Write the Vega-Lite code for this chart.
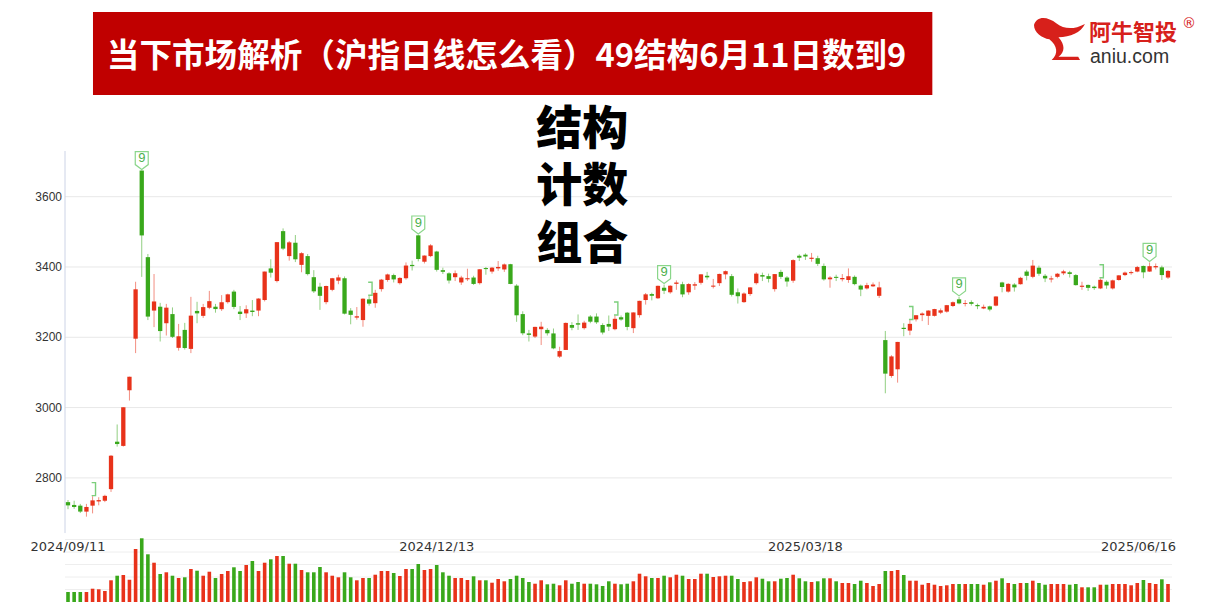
{
"$schema": "https://vega.github.io/schema/vega-lite/v6.json",
"width": 1218,
"height": 613,
"autosize": {"type": "fit", "contains": "padding"},
"padding": 0,
"background": "#ffffff",
"config": {"view": {"stroke": null}},
"datasets": {
"k": [
{"date":"2024-09-11","open":2731,"high":2737,"low":2711,"close":2721.8,"volume":2400},
{"date":"2024-09-12","open":2723,"high":2735,"low":2712,"close":2717.1,"volume":2400},
{"date":"2024-09-13","open":2721,"high":2726,"low":2700,"close":2704.1,"volume":2400},
{"date":"2024-09-18","open":2704,"high":2726,"low":2689.7,"close":2717.3,"volume":2400},
{"date":"2024-09-19","open":2721,"high":2748,"low":2699,"close":2736.0,"volume":3190,"td":1},
{"date":"2024-09-20","open":2733,"high":2745,"low":2722,"close":2736.8,"volume":3050},
{"date":"2024-09-23","open":2735,"high":2752,"low":2731,"close":2748.9,"volume":2640},
{"date":"2024-09-24","open":2768,"high":2865,"low":2760,"close":2863.1,"volume":5210},
{"date":"2024-09-25","open":2903,"high":2952,"low":2889,"close":2896.3,"volume":6310},
{"date":"2024-09-26","open":2891,"high":3001,"low":2889,"close":3000.9,"volume":6480},
{"date":"2024-09-27","open":3049,"high":3088,"low":3020,"close":3087.5,"volume":5350},
{"date":"2024-09-30","open":3196,"high":3358,"low":3155,"close":3336.5,"volume":12720},
{"date":"2024-10-08","open":3674.4,"high":3674.4,"low":3371.8,"close":3489.8,"volume":15290,"td":9},
{"date":"2024-10-09","open":3428,"high":3437,"low":3249,"close":3258.9,"volume":11450},
{"date":"2024-10-10","open":3276,"high":3380,"low":3229,"close":3301.9,"volume":9430},
{"date":"2024-10-11","open":3287,"high":3298,"low":3188,"close":3217.7,"volume":6720},
{"date":"2024-10-14","open":3240,"high":3295,"low":3205,"close":3284.3,"volume":7130},
{"date":"2024-10-15","open":3266,"high":3285,"low":3198,"close":3201.3,"volume":6310},
{"date":"2024-10-16","open":3170,"high":3238,"low":3162,"close":3202.9,"volume":5760},
{"date":"2024-10-17","open":3221,"high":3241,"low":3165,"close":3169.4,"volume":5930},
{"date":"2024-10-18","open":3167,"high":3315,"low":3155,"close":3261.6,"volume":7920},
{"date":"2024-10-21","open":3275,"high":3301,"low":3240,"close":3268.1,"volume":7510},
{"date":"2024-10-22","open":3261,"high":3295,"low":3255,"close":3285.9,"volume":6310},
{"date":"2024-10-23","open":3284,"high":3332,"low":3280,"close":3302.8,"volume":7270},
{"date":"2024-10-24","open":3287,"high":3295,"low":3270,"close":3280.3,"volume":5760},
{"date":"2024-10-25","open":3280,"high":3320,"low":3275,"close":3299.7,"volume":6720},
{"date":"2024-10-28","open":3300,"high":3324,"low":3296,"close":3322.2,"volume":7440},
{"date":"2024-10-29","open":3330,"high":3335,"low":3280,"close":3286.4,"volume":8330},
{"date":"2024-10-30","open":3273,"high":3289,"low":3249,"close":3266.2,"volume":7440},
{"date":"2024-10-31","open":3268,"high":3291,"low":3255,"close":3279.8,"volume":8880},
{"date":"2024-11-01","open":3276,"high":3306,"low":3260,"close":3272.0,"volume":9840},
{"date":"2024-11-04","open":3276,"high":3311,"low":3260,"close":3310.2,"volume":7440},
{"date":"2024-11-05","open":3306,"high":3387,"low":3302,"close":3387.0,"volume":9430},
{"date":"2024-11-06","open":3396,"high":3422,"low":3370,"close":3383.8,"volume":10250},
{"date":"2024-11-07","open":3360,"high":3471,"low":3356,"close":3470.7,"volume":11040},
{"date":"2024-11-08","open":3502,"high":3509.8,"low":3448,"close":3452.3,"volume":11040},
{"date":"2024-11-11","open":3431,"high":3474,"low":3418,"close":3470.1,"volume":9190},
{"date":"2024-11-12","open":3469,"high":3491,"low":3414,"close":3421.9,"volume":9190},
{"date":"2024-11-13","open":3406,"high":3442,"low":3385,"close":3439.3,"volume":7680},
{"date":"2024-11-14","open":3431,"high":3437,"low":3376,"close":3379.8,"volume":7130},
{"date":"2024-11-15","open":3371,"high":3391,"low":3326,"close":3330.7,"volume":7130},
{"date":"2024-11-18","open":3344,"high":3355,"low":3278,"close":3318,"volume":8400},
{"date":"2024-11-19","open":3300,"high":3347,"low":3294,"close":3346.0,"volume":7130},
{"date":"2024-11-20","open":3335,"high":3369,"low":3331,"close":3368.0,"volume":6310},
{"date":"2024-11-21","open":3361,"high":3378,"low":3351,"close":3370.4,"volume":5930},
{"date":"2024-11-22","open":3368,"high":3373,"low":3265,"close":3267.2,"volume":7130},
{"date":"2024-11-25","open":3276,"high":3283,"low":3237,"close":3263.8,"volume":5930},
{"date":"2024-11-26","open":3256,"high":3286,"low":3250,"close":3259.8,"volume":5210},
{"date":"2024-11-27","open":3249,"high":3311,"low":3230,"close":3309.8,"volume":5760},
{"date":"2024-11-28","open":3308,"high":3318,"low":3290,"close":3295.7,"volume":5760,"td":1},
{"date":"2024-11-29","open":3297,"high":3335,"low":3284,"close":3326.5,"volume":6550},
{"date":"2024-12-02","open":3337,"high":3366,"low":3330,"close":3364.0,"volume":7440},
{"date":"2024-12-03","open":3363,"high":3381,"low":3358,"close":3378.8,"volume":7440},
{"date":"2024-12-04","open":3377,"high":3381,"low":3356,"close":3364.7,"volume":6960},
{"date":"2024-12-05","open":3354,"high":3371,"low":3350,"close":3368.9,"volume":6240},
{"date":"2024-12-06","open":3368,"high":3413,"low":3364,"close":3404.1,"volume":7920},
{"date":"2024-12-09","open":3406,"high":3418,"low":3390,"close":3402.5,"volume":7920},
{"date":"2024-12-10","open":3490,"high":3491,"low":3416,"close":3422.7,"volume":9120,"td":9},
{"date":"2024-12-11","open":3415,"high":3433,"low":3410,"close":3432.5,"volume":7680},
{"date":"2024-12-12","open":3431,"high":3465,"low":3428,"close":3461.5,"volume":7920},
{"date":"2024-12-13","open":3444,"high":3446,"low":3387,"close":3391.9,"volume":8880},
{"date":"2024-12-16","open":3391,"high":3398,"low":3380,"close":3386.3,"volume":7130},
{"date":"2024-12-17","open":3382,"high":3385,"low":3353,"close":3361.5,"volume":6310},
{"date":"2024-12-18","open":3371,"high":3390,"low":3360,"close":3382.2,"volume":5760},
{"date":"2024-12-19","open":3356,"high":3375,"low":3349,"close":3370.0,"volume":5760},
{"date":"2024-12-20","open":3365,"high":3395,"low":3360,"close":3368.1,"volume":5280},
{"date":"2024-12-23","open":3370,"high":3375,"low":3349,"close":3351.8,"volume":6170},
{"date":"2024-12-24","open":3354,"high":3394,"low":3350,"close":3393.5,"volume":5210},
{"date":"2024-12-25","open":3397,"high":3400,"low":3378,"close":3394.0,"volume":5210},
{"date":"2024-12-26","open":3387,"high":3400,"low":3381,"close":3398.1,"volume":4630},
{"date":"2024-12-27","open":3396,"high":3417,"low":3389,"close":3400.1,"volume":5520},
{"date":"2024-12-30","open":3393,"high":3410,"low":3386,"close":3407.3,"volume":4970},
{"date":"2024-12-31","open":3408,"high":3409,"low":3351,"close":3351.8,"volume":5520},
{"date":"2025-01-02","open":3347,"high":3351,"low":3244,"close":3262.6,"volume":6310},
{"date":"2025-01-03","open":3266,"high":3274,"low":3206,"close":3211.4,"volume":5760},
{"date":"2025-01-06","open":3211,"high":3221,"low":3188,"close":3206.9,"volume":4800},
{"date":"2025-01-07","open":3202,"high":3230,"low":3198,"close":3229.6,"volume":4390},
{"date":"2025-01-08","open":3223,"high":3244,"low":3178,"close":3230.2,"volume":5210},
{"date":"2025-01-09","open":3221,"high":3226,"low":3205,"close":3211.4,"volume":4250},
{"date":"2025-01-10","open":3211,"high":3225,"low":3166,"close":3168.5,"volume":4390},
{"date":"2025-01-13","open":3145,"high":3173,"low":3141,"close":3160.8,"volume":4010},
{"date":"2025-01-14","open":3164,"high":3242,"low":3164,"close":3240.9,"volume":5210},
{"date":"2025-01-15","open":3235,"high":3243,"low":3220,"close":3227.1,"volume":4390},
{"date":"2025-01-16","open":3240,"high":3265,"low":3221,"close":3236.0,"volume":4800},
{"date":"2025-01-17","open":3226,"high":3247,"low":3222,"close":3241.8,"volume":4390},
{"date":"2025-01-20","open":3259,"high":3263,"low":3240,"close":3244.4,"volume":4390},
{"date":"2025-01-21","open":3259,"high":3268,"low":3238,"close":3242.6,"volume":4250},
{"date":"2025-01-22","open":3235,"high":3240,"low":3208,"close":3213.6,"volume":3840},
{"date":"2025-01-23","open":3238,"high":3262,"low":3218,"close":3230.2,"volume":4970},
{"date":"2025-01-24","open":3223,"high":3262,"low":3220,"close":3252.6,"volume":4390,"td":1},
{"date":"2025-01-27","open":3257,"high":3262,"low":3247,"close":3250.6,"volume":4250},
{"date":"2025-02-05","open":3270,"high":3272,"low":3220,"close":3229.5,"volume":4390},
{"date":"2025-02-06","open":3226,"high":3271,"low":3212,"close":3270.7,"volume":4970},
{"date":"2025-02-07","open":3263,"high":3304,"low":3256,"close":3303.7,"volume":6790},
{"date":"2025-02-10","open":3306,"high":3326,"low":3293,"close":3322.2,"volume":6170},
{"date":"2025-02-11","open":3323,"high":3327,"low":3305,"close":3318.1,"volume":5760},
{"date":"2025-02-12","open":3311,"high":3347,"low":3309,"close":3346.4,"volume":5760},
{"date":"2025-02-13","open":3341,"high":3350,"low":3323,"close":3332.5,"volume":6310,"td":9},
{"date":"2025-02-14","open":3328,"high":3348,"low":3324,"close":3346.7,"volume":5930},
{"date":"2025-02-17","open":3352,"high":3362,"low":3335,"close":3355.8,"volume":6550},
{"date":"2025-02-18","open":3351,"high":3358,"low":3314,"close":3322,"volume":6310},
{"date":"2025-02-19","open":3328,"high":3354,"low":3321,"close":3351.5,"volume":5520},
{"date":"2025-02-20","open":3347,"high":3357,"low":3335,"close":3350.8,"volume":5520},
{"date":"2025-02-21","open":3355,"high":3380,"low":3350,"close":3379.1,"volume":6790},
{"date":"2025-02-24","open":3375,"high":3386,"low":3364,"close":3370.5,"volume":6790},
{"date":"2025-02-25","open":3344,"high":3366,"low":3339,"close":3347,"volume":6000},
{"date":"2025-02-26","open":3354,"high":3381,"low":3346,"close":3380.2,"volume":6170},
{"date":"2025-02-27","open":3379,"high":3390,"low":3365,"close":3388.1,"volume":6310},
{"date":"2025-02-28","open":3374,"high":3380,"low":3316,"close":3320.9,"volume":6310},
{"date":"2025-03-03","open":3328,"high":3339,"low":3296,"close":3316.9,"volume":5520},
{"date":"2025-03-04","open":3300,"high":3328,"low":3298,"close":3324.5,"volume":4800},
{"date":"2025-03-05","open":3323,"high":3343,"low":3318,"close":3342.0,"volume":4970},
{"date":"2025-03-06","open":3354,"high":3385,"low":3350,"close":3381.1,"volume":5930},
{"date":"2025-03-07","open":3377,"high":3384,"low":3360,"close":3372.6,"volume":5590},
{"date":"2025-03-10","open":3374,"high":3381,"low":3356,"close":3366.2,"volume":4970},
{"date":"2025-03-11","open":3337,"high":3380,"low":3330,"close":3379.8,"volume":4970},
{"date":"2025-03-12","open":3386,"high":3392,"low":3366,"close":3371.9,"volume":5590},
{"date":"2025-03-13","open":3370,"high":3374,"low":3344,"close":3358.7,"volume":5760},
{"date":"2025-03-14","open":3361,"high":3422,"low":3355,"close":3419.6,"volume":6550},
{"date":"2025-03-17","open":3432,"high":3436,"low":3417,"close":3426.4,"volume":5690},
{"date":"2025-03-18","open":3435,"high":3439,"low":3420,"close":3429.8,"volume":4970},
{"date":"2025-03-19","open":3423,"high":3440,"low":3415,"close":3426.4,"volume":4800},
{"date":"2025-03-20","open":3425,"high":3432,"low":3403,"close":3408.9,"volume":4970},
{"date":"2025-03-21","open":3403,"high":3410,"low":3361,"close":3364.8,"volume":5690},
{"date":"2025-03-24","open":3365,"high":3374,"low":3341,"close":3370.0,"volume":5690},
{"date":"2025-03-25","open":3372,"high":3378,"low":3360,"close":3369.0,"volume":4970},
{"date":"2025-03-26","open":3365,"high":3380,"low":3359,"close":3368.7,"volume":4560},
{"date":"2025-03-27","open":3363,"high":3396,"low":3355,"close":3373.7,"volume":4560},
{"date":"2025-03-28","open":3372,"high":3376,"low":3348,"close":3351.3,"volume":4320},
{"date":"2025-03-31","open":3347,"high":3350,"low":3317,"close":3335.8,"volume":5110},
{"date":"2025-04-01","open":3339,"high":3355,"low":3336,"close":3348.4,"volume":4560},
{"date":"2025-04-02","open":3345,"high":3356,"low":3343,"close":3350.1,"volume":3840},
{"date":"2025-04-03","open":3318,"high":3358,"low":3312,"close":3342.0,"volume":4320},
{"date":"2025-04-07","open":3192,"high":3218,"low":3040.7,"close":3096.6,"volume":7440},
{"date":"2025-04-08","open":3090,"high":3149,"low":3085,"close":3145.6,"volume":7440},
{"date":"2025-04-09","open":3109,"high":3187,"low":3071,"close":3186.8,"volume":7680},
{"date":"2025-04-10","open":3227,"high":3240,"low":3203,"close":3223.6,"volume":6480},
{"date":"2025-04-11","open":3219,"high":3249,"low":3206,"close":3238.2,"volume":5110,"td":1},
{"date":"2025-04-14","open":3251,"high":3263,"low":3245,"close":3262.8,"volume":5110},
{"date":"2025-04-15","open":3263,"high":3271,"low":3246,"close":3267.7,"volume":4150},
{"date":"2025-04-16","open":3261,"high":3277,"low":3235,"close":3276.0,"volume":4560},
{"date":"2025-04-17","open":3261,"high":3281,"low":3259,"close":3280.3,"volume":4150},
{"date":"2025-04-18","open":3270,"high":3282,"low":3266,"close":3276.7,"volume":3840},
{"date":"2025-04-21","open":3273,"high":3292,"low":3270,"close":3291.4,"volume":4010},
{"date":"2025-04-22","open":3289,"high":3302,"low":3286,"close":3299.8,"volume":4320},
{"date":"2025-04-23","open":3308,"high":3315,"low":3294,"close":3296.4,"volume":4320,"td":9},
{"date":"2025-04-24","open":3295,"high":3306,"low":3288,"close":3297.3,"volume":4320},
{"date":"2025-04-25","open":3300,"high":3305,"low":3290,"close":3295.1,"volume":4320},
{"date":"2025-04-28","open":3292,"high":3296,"low":3280,"close":3288.4,"volume":4320},
{"date":"2025-04-29","open":3282,"high":3293,"low":3280,"close":3286.7,"volume":4150},
{"date":"2025-04-30","open":3288,"high":3290,"low":3274,"close":3279.0,"volume":4730},
{"date":"2025-05-06","open":3290,"high":3317,"low":3288,"close":3316.1,"volume":5110},
{"date":"2025-05-07","open":3356,"high":3358,"low":3328,"close":3343.0,"volume":5690},
{"date":"2025-05-08","open":3330,"high":3354,"low":3327,"close":3352.0,"volume":4560},
{"date":"2025-05-09","open":3350,"high":3354,"low":3330,"close":3342.0,"volume":4320},
{"date":"2025-05-12","open":3351,"high":3372,"low":3350,"close":3369.2,"volume":4560},
{"date":"2025-05-13","open":3387,"high":3392,"low":3362,"close":3374.9,"volume":4560},
{"date":"2025-05-14","open":3372,"high":3420,"low":3368,"close":3403.9,"volume":5110},
{"date":"2025-05-15","open":3398,"high":3404,"low":3375,"close":3380.8,"volume":4560},
{"date":"2025-05-16","open":3375,"high":3380,"low":3357,"close":3367.5,"volume":4150},
{"date":"2025-05-19","open":3364.5,"high":3375,"low":3356,"close":3367.6,"volume":4320},
{"date":"2025-05-20","open":3372,"high":3383,"low":3368,"close":3380.8,"volume":4320},
{"date":"2025-05-21","open":3382,"high":3392,"low":3377,"close":3387.6,"volume":4320},
{"date":"2025-05-22","open":3385,"high":3389,"low":3370,"close":3380.2,"volume":4150},
{"date":"2025-05-23","open":3377,"high":3380,"low":3347,"close":3348.4,"volume":4320},
{"date":"2025-05-26","open":3343.5,"high":3358,"low":3335,"close":3346.8,"volume":3530},
{"date":"2025-05-27","open":3349,"high":3350,"low":3332,"close":3340.7,"volume":3530},
{"date":"2025-05-28","open":3344,"high":3347,"low":3335,"close":3340.0,"volume":3530},
{"date":"2025-05-29","open":3339,"high":3368,"low":3337,"close":3363.5,"volume":4150,"td":1},
{"date":"2025-05-30","open":3358,"high":3362,"low":3338,"close":3347.5,"volume":4150},
{"date":"2025-06-03","open":3339,"high":3364,"low":3336,"close":3362.0,"volume":4320},
{"date":"2025-06-04","open":3363,"high":3377,"low":3361,"close":3376.2,"volume":4320},
{"date":"2025-06-05","open":3377,"high":3387,"low":3374,"close":3384.1,"volume":4320},
{"date":"2025-06-06","open":3382.5,"high":3390,"low":3378,"close":3385.4,"volume":4010},
{"date":"2025-06-09","open":3387,"high":3403,"low":3385,"close":3399.8,"volume":4560},
{"date":"2025-06-10","open":3403,"high":3404,"low":3368,"close":3384.8,"volume":5280},
{"date":"2025-06-11","open":3387,"high":3413,"low":3386,"close":3402.3,"volume":4560,"td":9},
{"date":"2025-06-12","open":3399,"high":3410,"low":3393,"close":3402.7,"volume":4320},
{"date":"2025-06-13","open":3399,"high":3404,"low":3363,"close":3377.0,"volume":5450},
{"date":"2025-06-16","open":3370,"high":3391,"low":3366,"close":3388.8,"volume":4320}
],
"ygrid": [{"v":2800},{"v":3000},{"v":3200},{"v":3400},{"v":3600}],
"vgrid": [{"v":3000},{"v":6000},{"v":9000},{"v":12000},{"v":15000}],
"dates": [{"date":"2024-09-11","label":"2024/09/11"},{"date":"2024-12-13","label":"2024/12/13"},{"date":"2025-03-18","label":"2025/03/18"}],
"lastdate": [{"date":"2025-06-16","label":"2025/06/16"}],
"title": [{"t":"当下市场解析（沪指日线怎么看）49结构6月11日数到9"}],
"logo": [{"cn":"阿牛智投","en":"aniu.com","r":"®"}],
"big": [{"t":["结构","计数","组合"]}]
},
"layer": [
{
"layer": [
{
"data": {"name": "ygrid"},
"mark": {"type": "rule", "stroke": "#e8e8e8", "strokeWidth": 1, "xOffset": -3, "x2Offset": 4},
"encoding": {
"x": {"datum": "2024-09-11", "type": "ordinal", "axis": null, "scale": {"type": "point", "range": [68, 1168], "padding": 0}},
"x2": {"datum": "2025-06-16"},
"y": {"field": "v", "type": "quantitative", "axis": null, "scale": {"domain": [2415.6, 4159.6], "nice": false, "zero": false}}
}
},
{
"data": {"name": "logo"},
"mark": {"type": "rule", "stroke": "#ccd3e6", "strokeWidth": 1, "xOffset": -3},
"encoding": {
"x": {"datum": "2024-09-11", "type": "ordinal", "axis": null},
"y": {"datum": 3730, "type": "quantitative", "axis": null},
"y2": {"datum": 2643}
}
},
{
"data": {"name": "ygrid"},
"mark": {"type": "text", "align": "right", "baseline": "middle", "dx": -6, "font": "Liberation Sans", "fontSize": 12, "fill": "#333333"},
"encoding": {
"x": {"datum": "2024-09-11", "type": "ordinal", "axis": null},
"y": {"field": "v", "type": "quantitative", "axis": null},
"text": {"field": "v", "type": "quantitative", "format": "d"}
}
},
{
"data": {"name": "dates"},
"mark": {"type": "text", "align": "center", "baseline": "middle", "font": "DejaVu Sans", "fontSize": 13, "fill": "#333333"},
"encoding": {
"x": {"field": "date", "type": "ordinal", "axis": null},
"y": {"datum": 2603, "type": "quantitative", "axis": null},
"text": {"field": "label", "type": "nominal"}
}
},
{
"data": {"name": "lastdate"},
"mark": {"type": "text", "align": "right", "baseline": "middle", "dx": 8, "font": "DejaVu Sans", "fontSize": 13, "fill": "#333333"},
"encoding": {
"x": {"field": "date", "type": "ordinal", "axis": null},
"y": {"datum": 2603, "type": "quantitative", "axis": null},
"text": {"field": "label", "type": "nominal"}
}
},
{
"data": {"name": "k"},
"mark": {"type": "rule", "strokeWidth": 1, "opacity": 0.55},
"encoding": {
"x": {"field": "date", "type": "ordinal", "axis": null},
"y": {"field": "low", "type": "quantitative", "axis": null},
"y2": {"field": "high"},
"color": {"condition": {"test": "datum.close >= datum.open", "value": "#e8321a"}, "value": "#39a81b"}
}
},
{
"data": {"name": "k"},
"mark": {"type": "bar", "size": 4.3},
"encoding": {
"x": {"field": "date", "type": "ordinal", "axis": null},
"y": {"field": "open", "type": "quantitative", "axis": null},
"y2": {"field": "close"},
"color": {"condition": {"test": "datum.close >= datum.open", "value": "#e8321a"}, "value": "#39a81b"}
}
},
{
"data": {"name": "k"},
"transform": [{"filter": "datum.td == 9"}],
"mark": {"type": "point", "shape": "M-0.72,-1L0.72,-1L0.72,0.45L0,1L-0.72,0.45Z", "size": 324, "filled": true, "fill": "#ffffff", "stroke": "#8ad68a", "strokeWidth": 1.2, "opacity": 1, "yOffset": -10},
"encoding": {
"x": {"field": "date", "type": "ordinal", "axis": null},
"y": {"field": "high", "type": "quantitative", "axis": null}
}
},
{
"data": {"name": "k"},
"transform": [{"filter": "datum.td == 9"}],
"mark": {"type": "text", "text": "9", "font": "Liberation Sans", "fontSize": 13, "fill": "#4cb04c", "baseline": "middle", "align": "center", "yOffset": -12.5},
"encoding": {
"x": {"field": "date", "type": "ordinal", "axis": null},
"y": {"field": "high", "type": "quantitative", "axis": null}
}
},
{
"data": {"name": "k"},
"transform": [{"filter": "datum.td == 1"}],
"mark": {"type": "point", "shape": "M-0.3,-1L0.3,-1L0.3,1L-0.3,1", "size": 169, "filled": false, "stroke": "#7ccf7c", "strokeWidth": 1.4, "opacity": 1, "yOffset": -7, "xOffset": 1},
"encoding": {
"x": {"field": "date", "type": "ordinal", "axis": null},
"y": {"field": "high", "type": "quantitative", "axis": null}
}
},
{
"data": {"name": "title"},
"mark": {"type": "rect", "fill": "#c00000", "xOffset": 0.4, "x2Offset": 4},
"encoding": {
"x": {"datum": "2024-09-19", "type": "ordinal", "axis": null},
"x2": {"datum": "2025-04-16"},
"y": {"datum": 4125.5, "type": "quantitative", "axis": null},
"y2": {"datum": 3889.3}
}
},
{
"data": {"name": "title"},
"mark": {"type": "text", "align": "left", "baseline": "middle", "dx": 2, "font": "Noto Sans CJK SC", "fontWeight": "bold", "fontSize": 32.6, "fill": "#ffffff"},
"encoding": {
"x": {"datum": "2024-09-23", "type": "ordinal", "axis": null},
"y": {"datum": 3997, "type": "quantitative", "axis": null},
"text": {"field": "t", "type": "nominal"}
}
},
{
"data": {"name": "big"},
"mark": {"type": "text", "align": "center", "baseline": "middle", "dx": -2, "font": "Noto Sans CJK SC", "fontWeight": 900, "fontSize": 46, "lineHeight": 57.5, "fill": "#000000"},
"encoding": {
"x": {"datum": "2025-01-17", "type": "ordinal", "axis": null},
"y": {"datum": 3789.8, "type": "quantitative", "axis": null},
"text": {"field": "t", "type": "nominal"}
}
},
{
"data": {"name": "logo"},
"mark": {"type": "point", "shape": "M-1,-0.5 C-0.9,-0.85 -0.5,-0.85 -0.13,-0.56 C0.15,-0.35 0.5,-0.3 0.96,-0.54 C0.8,-0.2 0.4,-0.05 -0.06,-0.03 C0.2,0.25 0.2,0.55 -0.06,0.72 L0.7,0.72 L0.77,0.85 L-0.32,0.85 C-0.05,0.6 -0.1,0.3 -0.41,0.05 C-0.7,0 -1,-0.2 -1,-0.5 Z", "size": 2704, "filled": true, "fill": "#d7201b", "strokeWidth": 0, "opacity": 1, "xOffset": -108},
"encoding": {
"x": {"datum": "2025-06-16", "type": "ordinal", "axis": null},
"y": {"datum": 4051.5, "type": "quantitative", "axis": null}
}
},
{
"data": {"name": "logo"},
"mark": {"type": "text", "align": "left", "baseline": "middle", "dx": -79, "font": "Noto Sans CJK SC", "fontWeight": "bold", "fontSize": 22, "fill": "#d7201b"},
"encoding": {
"x": {"datum": "2025-06-16", "type": "ordinal", "axis": null},
"y": {"datum": 4065.7, "type": "quantitative", "axis": null},
"text": {"field": "cn", "type": "nominal"}
}
},
{
"data": {"name": "logo"},
"mark": {"type": "text", "align": "center", "baseline": "middle", "dx": 21, "font": "DejaVu Sans", "fontSize": 14, "fill": "#d7201b"},
"encoding": {
"x": {"datum": "2025-06-16", "type": "ordinal", "axis": null},
"y": {"datum": 4092, "type": "quantitative", "axis": null},
"text": {"field": "r", "type": "nominal"}
}
},
{
"data": {"name": "logo"},
"mark": {"type": "text", "align": "left", "baseline": "middle", "dx": -78, "font": "Liberation Sans", "fontSize": 19.5, "fill": "#333333"},
"encoding": {
"x": {"datum": "2025-06-16", "type": "ordinal", "axis": null},
"y": {"datum": 3997.4, "type": "quantitative", "axis": null},
"text": {"field": "en", "type": "nominal"}
}
}
]
},
{
"layer": [
{
"data": {"name": "vgrid"},
"mark": {"type": "rule", "stroke": "#eeeeee", "strokeWidth": 1, "xOffset": -3, "x2Offset": 4},
"encoding": {
"x": {"datum": "2024-09-11", "type": "ordinal", "axis": null},
"x2": {"datum": "2025-06-16"},
"y": {"field": "v", "type": "quantitative", "axis": null, "scale": {"domain": [-2640, 144480], "nice": false, "zero": false}}
}
},
{
"data": {"name": "k"},
"mark": {"type": "bar", "size": 3.6},
"encoding": {
"x": {"field": "date", "type": "ordinal", "axis": null},
"y": {"field": "volume", "type": "quantitative", "axis": null},
"y2": {"datum": 0},
"color": {"condition": {"test": "datum.close >= datum.open", "value": "#e8321a"}, "value": "#39a81b"}
}
}
]
}
],
"resolve": {"scale": {"y": "independent"}}
}
